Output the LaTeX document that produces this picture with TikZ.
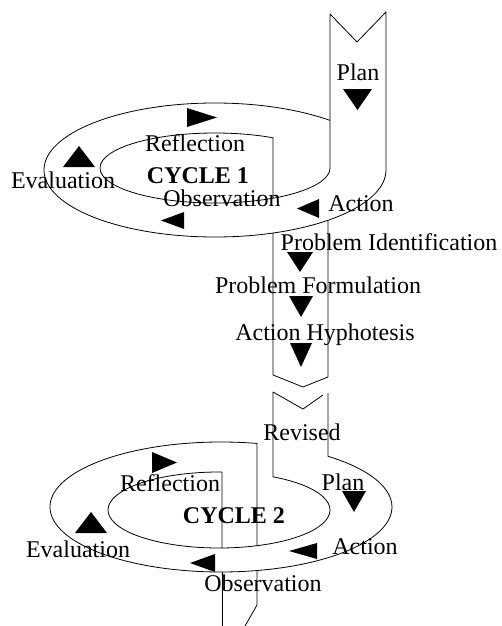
\documentclass[tikz,border=0pt]{standalone}
\usepackage{fontspec}
\setmainfont{Liberation Serif}
\begin{document}
\begin{tikzpicture}[
  x=1pt, y=-1pt,
  lbl/.style={inner sep=0pt, text height=16pt, text depth=0pt, font=\fontsize{24}{28}\selectfont},
  cyc/.style={lbl, font=\fontsize{24}{28}\selectfont\bfseries},
  band/.style={draw, line width=0.8pt, line join=round},
  pics/trimark/.style 2 args={code={\fill (-#1/2,-#2/2) -- (#1/2,0) -- (-#1/2,#2/2) -- cycle;}}
]
\useasboundingbox (0,0) rectangle (501,626);

% cycle 1
\draw[band] (357,42) -- (386,12) -- (386,170) arc[start angle=0, end angle=312.3, x radius=171, y radius=67];
\draw[band] (357,42) -- (330,14) -- (330,168) arc[start angle=0, end angle=300.3, x radius=115, y radius=35] -- ++(0,60.4);

% column between the cycles
\draw[band] (273,233) -- (273,375) -- (303,387) -- (328,377) -- (328,220.3);
\draw[band] (323,395) -- (303,409) -- (273,392) -- (273,476.8)
  arc[start angle=-60.89, end angle=271.55, x radius=111, y radius=38] -- (222,548);
\draw[band] (328,393) -- (328,456.3)
  arc[start angle=-51.25, end angle=282.15, x radius=171, y radius=65] -- (257,545.7);

% cycle 2 exit
\draw[band] (222,572) -- (222,626);
\draw[band] (257,570.6) -- (257,605) -- (245,626);

\node[lbl] (plan1) at (358,72) {Plan};
\node[lbl] (refl1) at (195,143) {Reflection};
\node[cyc] (cyc1) at (198,175) {CYCLE 1};
\node[lbl] (eval1) at (63,180) {Evaluation};
\node[lbl] (obs1) at (222,198) {Observation};
\node[lbl] (act1) at (361,203) {Action};

\node[lbl] (pid) at (389,242) {Problem Identification};
\node[lbl] (pform) at (318,285) {Problem Formulation};
\node[lbl] (ahyp) at (325,332) {Action Hyphotesis};

\node[lbl] (rev2) at (302,432) {Revised};
\node[lbl] (plan2) at (343,482) {Plan};
\node[lbl] (refl2) at (170,483) {Reflection};
\node[cyc] (cyc2) at (234,515) {CYCLE 2};
\node[lbl] (eval2) at (78,549) {Evaluation};
\node[lbl] (act2) at (365,546) {Action};
\node[lbl] (obs2) at (263,583) {Observation};

\pic[rotate=-90] at (357.5,99.5) {trimark={21}{29}};
\pic at (202,117.5) {trimark={30}{19}};
\pic[rotate=90] at (79,156.5) {trimark={21}{32}};
\pic[rotate=180] at (172.5,220.5) {trimark={23}{17}};
\pic[rotate=180] at (308,208.5) {trimark={22}{19}};

\pic[rotate=-90] at (300,262) {trimark={20}{26}};
\pic[rotate=-90] at (301,306.5) {trimark={21}{24}};
\pic[rotate=-90] at (301,355) {trimark={24}{22}};

\pic[rotate=-90] at (354,501.5) {trimark={21}{24}};
\pic[rotate=180] at (303,551) {trimark={28}{16}};
\pic[rotate=180] at (202.5,563) {trimark={25}{18}};
\pic[rotate=90] at (91,522.5) {trimark={21}{32}};
\pic at (164.5,462.5) {trimark={25}{21}};
\end{tikzpicture}
\end{document}
